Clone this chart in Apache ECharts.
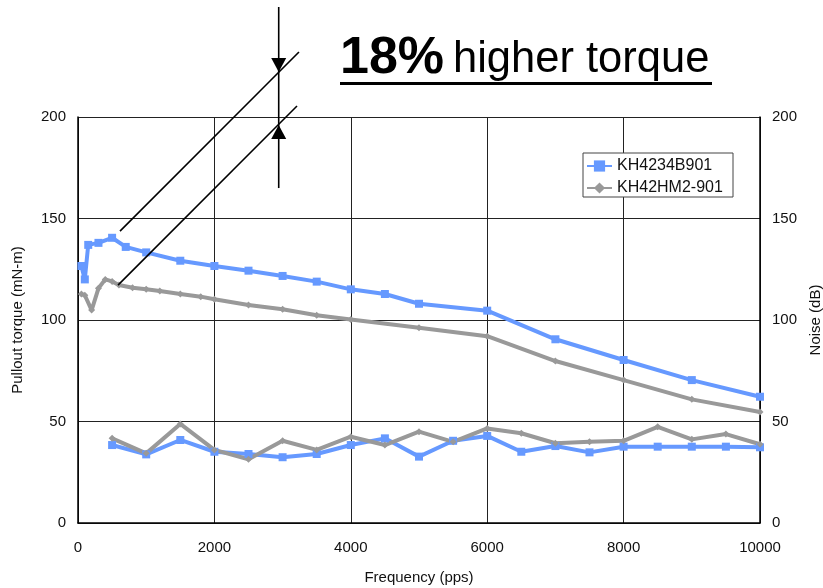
<!DOCTYPE html>
<html>
<head>
<meta charset="utf-8">
<script src="https://cdn.jsdelivr.net/npm/echarts@6/dist/echarts.min.js"></script>
<style>html,body{margin:0;padding:0;background:#fff;}#c{width:823px;height:588px;}</style>
</head>
<body>
<div id="c"></div>
<script>
// ---- data ----
var seriesNames = ['KH4234B901', 'KH42HM2-901'];
var blueTorqueFreq = [50,100,150,300,500,700,1000,1500,2000,2500,3000,3500,4000,4500,5000,6000,7000,8000,9000,10000];
var blueTorque = [126.6,120,137,138,140.5,136,133.3,129.2,126.6,124.3,121.7,118.9,115.1,112.8,108,104.6,90.5,80.3,70.4,62.2];
var grayTorqueFreq = [50,100,200,300,400,500,600,800,1000,1200,1500,1800,2000,2500,3000,3500,4000,5000,6000,7000,8000,9000,10000];
var grayTorque = [112.8,112.2,104.9,115.6,120,119,117.2,115.9,115.1,114.3,112.8,111.5,110.2,107.4,105.3,102.3,100.3,96.2,92,79.8,70.4,60.9,54.7];
var noiseFreq = [500,1000,1500,2000,2500,3000,3500,4000,4500,5000,5500,6000,6500,7000,7500,8000,8500,9000,9500,10000];
var blueNoise = [38.4,33.8,40.9,35.1,34,32.4,34,38.4,41.7,32.7,40.5,42.9,35.1,37.9,34.8,37.6,37.6,37.6,37.6,37.3];
var grayNoise = [41.7,34.3,48.8,36,31.4,40.5,36,42.5,38.4,45,40,46.6,44.2,39.3,40,40.5,47.4,41.2,43.8,38.8];
// annotation anchors in data units (frequency, torque)
var annoLine1 = [[616,143.8],[3240,232]];
var annoLine2 = [[587,117.2],[3211,205.4]];
var annoArrowX = 2943;
var annoArrowTop = 254.2, annoArrowBottom = 165;
var annoDownTip = 222.2, annoUpTip = 196;

function pairs(xs, ys){ return xs.map(function(x,i){ return [x, ys[i]]; }); }

var BLUE = '#6699FF', GRAY = '#999999';
var FONT = 'Liberation Sans, Arial, sans-serif';

var chart = echarts.init(document.getElementById('c'), null, {renderer:'canvas'});

function lineSeries(name, data, color, symbol, size, yIdx){
  return {
    name: name, type: 'line', yAxisIndex: yIdx, data: data,
    symbol: symbol, symbolSize: size, showSymbol: true,
    lineStyle: {color: color, width: 4},
    itemStyle: {color: color},
    animation: false, z: 3
  };
}

var axisLabelStyle = {fontSize: 15, color: '#111', fontFamily: FONT, formatter: function(v){ return String(v); }};

chart.setOption({
  animation: false,
  grid: {left: 78, right: 63, top: 117, bottom: 65, containLabel: false, outerBoundsMode: 'none'},
  legend: {
    orient: 'vertical', left: 583, top: 153, z: 10,
    itemWidth: 25, itemHeight: 14, itemGap: 6, padding: [5, 0, 0, 3],
    textStyle: {fontSize: 16, color: '#111', fontFamily: FONT, lineHeight: 16},
    data: seriesNames
  },
  xAxis: {
    type: 'value', min: 0, max: 10000, interval: 2000,
    name: 'Frequency (pps)', nameLocation: 'middle', nameGap: 47,
    nameTextStyle: {fontSize: 15, color: '#111', fontFamily: FONT},
    axisLine: {show: true, lineStyle: {color: '#000', width: 1.5}},
    axisTick: {show: false},
    axisLabel: Object.assign({margin: 17}, axisLabelStyle),
    splitLine: {show: true, lineStyle: {color: '#222', width: 1}}
  },
  yAxis: [{
    type: 'value', min: 0, max: 200, interval: 50, position: 'left',
    name: 'Pullout torque (mN-m)', nameLocation: 'middle', nameGap: 53,
    nameTextStyle: {fontSize: 15, color: '#111', fontFamily: FONT},
    axisLine: {show: true, lineStyle: {color: '#000', width: 1.5}},
    axisTick: {show: false},
    axisLabel: Object.assign({margin: 12}, axisLabelStyle),
    splitLine: {show: true, lineStyle: {color: '#222', width: 1}}
  },{
    type: 'value', min: 0, max: 200, interval: 50, position: 'right',
    name: 'Noise (dB)', nameLocation: 'middle', nameGap: 48,
    nameTextStyle: {fontSize: 15, color: '#111', fontFamily: FONT},
    axisLine: {show: true, lineStyle: {color: '#000', width: 1.5}},
    axisTick: {show: false},
    axisLabel: Object.assign({margin: 12}, axisLabelStyle),
    splitLine: {show: false}
  }],
  series: [
    lineSeries(seriesNames[0], pairs(blueTorqueFreq, blueTorque), BLUE, 'rect', 8, 0),
    lineSeries(seriesNames[1], pairs(grayTorqueFreq, grayTorque), GRAY, 'diamond', 7, 0),
    lineSeries(seriesNames[0], pairs(noiseFreq, blueNoise), BLUE, 'rect', 8, 1),
    lineSeries(seriesNames[1], pairs(noiseFreq, grayNoise), GRAY, 'diamond', 7, 1)
  ]
});

// annotations positioned through the axes' scales
function px(p){ return chart.convertToPixel({xAxisIndex:0, yAxisIndex:0}, p); }
var l1a = px(annoLine1[0]), l1b = px(annoLine1[1]);
var l2a = px(annoLine2[0]), l2b = px(annoLine2[1]);
var vt = px([annoArrowX, annoArrowTop]), vb = px([annoArrowX, annoArrowBottom]);
var dt = px([annoArrowX, annoDownTip]), ut = px([annoArrowX, annoUpTip]);
var ax = vt[0];

chart.setOption({
  graphic: [
    {type:'rect', z: 5, shape:{x:583, y:153, width:150, height:44}, style:{fill:'#fff', stroke:'#444', lineWidth:1}},
    {type:'line', z: 20, shape:{x1:l1a[0], y1:l1a[1], x2:l1b[0], y2:l1b[1]}, style:{stroke:'#000', lineWidth:1.6}},
    {type:'line', z: 20, shape:{x1:l2a[0], y1:l2a[1], x2:l2b[0], y2:l2b[1]}, style:{stroke:'#000', lineWidth:1.6}},
    {type:'line', z: 20, shape:{x1:ax, y1:vt[1], x2:ax, y2:vb[1]}, style:{stroke:'#000', lineWidth:1.6}},
    {type:'polygon', z: 20, shape:{points:[[ax-7.5, dt[1]-14],[ax+7.5, dt[1]-14],[ax, dt[1]]]}, style:{fill:'#000'}},
    {type:'polygon', z: 20, shape:{points:[[ax-7.5, ut[1]+14],[ax+7.5, ut[1]+14],[ax, ut[1]]]}, style:{fill:'#000'}},
    {type:'text', z: 20, x: 340, y: 85, style:{text:'18%', fill:'#000', font:'bold 52px ' + FONT, textAlign:'left', textVerticalAlign:'bottom'}},
    {type:'text', z: 20, x: 453, y: 82, style:{text:'higher torque', fill:'#000', font:'43.5px ' + FONT, textAlign:'left', textVerticalAlign:'bottom'}},
    {type:'rect', z: 20, shape:{x:340, y:82, width:372, height:3}, style:{fill:'#000'}}
  ]
});
</script>
</body>
</html>
